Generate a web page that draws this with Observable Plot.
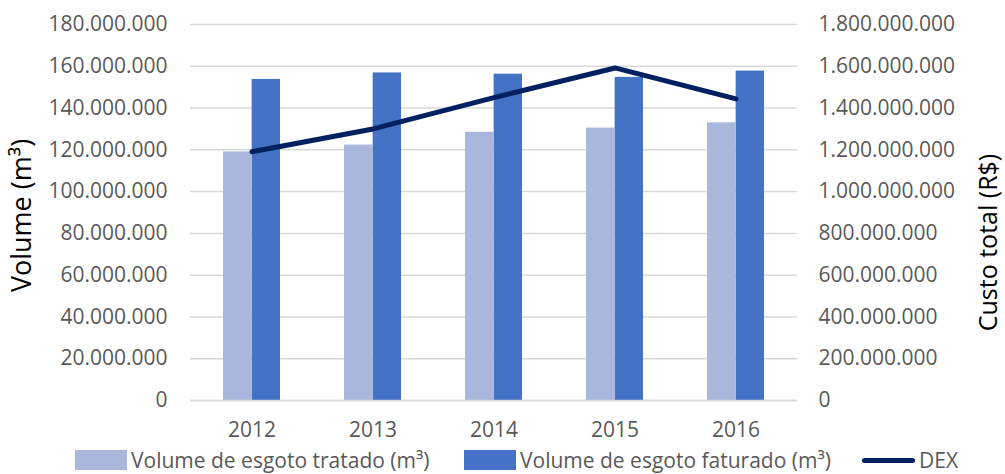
<!DOCTYPE html>
<html>
<head>
<meta charset="utf-8">
<script src="https://cdn.jsdelivr.net/npm/d3@7"></script>
<script src="https://cdn.jsdelivr.net/npm/@observablehq/plot@0.6"></script>
<style>
  html, body { margin: 0; padding: 0; background: #fff; }
  body { width: 1005px; height: 474px; overflow: hidden; font-family: "Open Sans", sans-serif; }
  #legend { display: flex; align-items: center; height: 30px; font-size: 21px; color: #595959; position: relative; }
  .item { position: absolute; display: flex; align-items: center; top: 2px; }
  .sw { width: 52px; height: 20px; margin-right: 4px; }
  .ln { width: 53px; height: 5px; border-radius: 3px; margin-right: 4px; }
</style>
</head>
<body>
<div id="chart"></div>
<div id="legend"></div>
<script>
const years = ["2012", "2013", "2014", "2015", "2016"];
const tratado = [119000000, 122300000, 128400000, 130400000, 132900000];
const faturado = [153700000, 156800000, 156200000, 154700000, 157700000];
const dex = [1191000000, 1300000000, 1450000000, 1592000000, 1444000000];
const leftTicks = [0, 20e6, 40e6, 60e6, 80e6, 100e6, 120e6, 140e6, 160e6, 180e6];
const seriesNames = ["Volume de esgoto tratado (m³)", "Volume de esgoto faturado (m³)", "DEX"];
const colors = ["#A9B7DC", "#4472C4", "#002060"];

const data = years.map((y, i) => ({year: y, tratado: tratado[i], faturado: faturado[i], dex: dex[i]}));
const fmt = d3.formatLocale({decimal: ",", thousands: ".", grouping: [3], currency: ["R$", ""]}).format(",.0f");
const ratio = 10;

const W = 1005, H = 444;
const mL = 190, mR = 208, mT = 24, mB = 44;
const step = (W - mL - mR) / years.length;
const padInner = 0.528;
const half = step * (1 - padInner) / 2;

const chart = Plot.plot({
  width: W, height: H,
  marginLeft: mL, marginRight: mR, marginTop: mT, marginBottom: mB,
  style: {fontFamily: "Open Sans", fontSize: "21px", color: "#595959", background: "#fff"},
  x: {type: "band", domain: years, paddingInner: padInner, paddingOuter: padInner / 2, label: null},
  y: {domain: [0, 180e6], label: null},
  marks: [
    Plot.gridY(leftTicks, {stroke: "#D9D9D9", strokeOpacity: 1, strokeWidth: 1.5}),
    Plot.barY(data, {x: "year", y: "tratado", fill: colors[0], insetRight: half}),
    Plot.barY(data, {x: "year", y: "faturado", fill: colors[1], insetLeft: half}),
    Plot.ruleY([0], {stroke: "#D9D9D9", strokeWidth: 1.5}),
    Plot.line(data, {x: "year", y: d => d.dex / ratio, stroke: colors[2], strokeWidth: 5, strokeLinecap: "round", strokeLinejoin: "round"}),
    Plot.axisY(leftTicks, {anchor: "left", tickSize: 0, tickPadding: 23, tickFormat: fmt, label: null, fontSize: 21, fill: "#595959"}),
    Plot.axisY(leftTicks, {anchor: "right", tickSize: 0, tickPadding: 21, tickFormat: d => fmt(d * ratio), label: null, fontSize: 21, fill: "#595959", textAnchor: "start"}),
    Plot.axisX({tickSize: 0, tickPadding: 22, label: null, fontSize: 21, fill: "#595959"}),
    Plot.text(["Volume (m³)"], {frameAnchor: "left", textAnchor: "middle", dx: -168, dy: 3, rotate: -90, fontSize: 27, fill: "#000"}),
    Plot.text(["Custo total (R$)"], {frameAnchor: "right", textAnchor: "middle", dx: 191, dy: 30, rotate: -90, fontSize: 25, fill: "#000"})
  ]
});
document.getElementById("chart").appendChild(chart);

const legend = document.getElementById("legend");
const lefts = [75, 464, 862];
seriesNames.forEach((name, i) => {
  const it = document.createElement("div");
  it.className = "item";
  it.style.left = lefts[i] + "px";
  const sw = document.createElement("div");
  sw.className = i < 2 ? "sw" : "ln";
  sw.style.background = colors[i];
  const tx = document.createElement("span");
  tx.textContent = name;
  it.appendChild(sw); it.appendChild(tx);
  legend.appendChild(it);
});
</script>
</body>
</html>
